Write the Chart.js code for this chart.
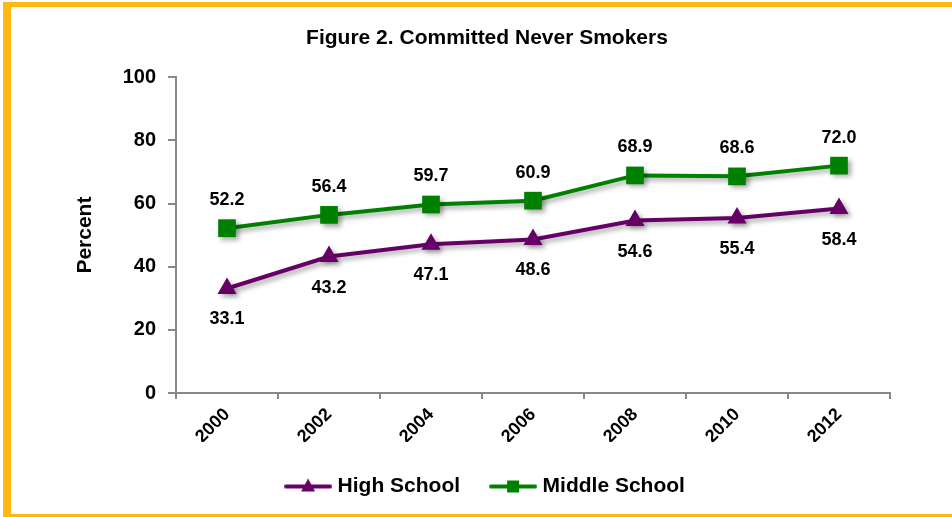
<!DOCTYPE html>
<html><head><meta charset="utf-8">
<script src="https://cdn.jsdelivr.net/npm/chart.js@4.4.1/dist/chart.umd.min.js"></script>
<style>
html,body{margin:0;padding:0;background:#fff;overflow:hidden;width:952px;height:517px;}
#wrap{position:relative;width:952px;height:517px;overflow:hidden;}
.band{position:absolute;background:#FDB813;pointer-events:none;}
#bl{left:3px;top:2px;width:8px;height:515px;}
#bt{left:3px;top:2px;width:949px;height:5px;}
#bb{left:3px;top:514px;width:949px;height:3px;}
canvas{position:absolute;left:0;top:0;}
</style></head><body>
<div id="wrap"><canvas id="c" width="952" height="517"></canvas><div class="band" id="bl"></div><div class="band" id="bt"></div><div class="band" id="bb"></div></div>
<script>
const years = ['2000','2002','2004','2006','2008','2010','2012'];
const highSchool = [33.1, 43.2, 47.1, 48.6, 54.6, 55.4, 58.4];
const middleSchool = [52.2, 56.4, 59.7, 60.9, 68.9, 68.6, 72.0];
const yTicks = [0, 20, 40, 60, 80, 100];

const PURPLE = '#660066';
const GREEN = '#008000';
const FONT = 'Arial, "Liberation Sans", sans-serif';

function legendIcon(color, style) {
  const c = document.createElement('canvas');
  c.width = 48; c.height = 22;
  const x = c.getContext('2d');
  x.strokeStyle = color; x.lineWidth = 4; x.lineCap = 'round';
  x.beginPath(); x.moveTo(2, 11); x.lineTo(46, 11); x.stroke();
  x.fillStyle = color;
  if (style === 'triangle') {
    x.beginPath(); x.moveTo(24, 3); x.lineTo(31, 16); x.lineTo(17, 16); x.closePath(); x.fill();
  } else {
    x.fillRect(18, 5, 12, 12);
  }
  return c;
}

const shadowPlugin = {
  id: 'shadow',
  beforeDatasetDraw(chart) {
    const c = chart.ctx; c.save();
    c.shadowColor = 'rgba(0,0,0,0.35)'; c.shadowBlur = 5; c.shadowOffsetX = 3; c.shadowOffsetY = 3;
  },
  afterDatasetDraw(chart) { chart.ctx.restore(); }
};

const labelPlugin = {
  id: 'valueLabels',
  afterDatasetsDraw(chart) {
    const ctx = chart.ctx;
    ctx.save();
    ctx.font = 'bold 18px ' + FONT;
    ctx.fillStyle = '#000';
    ctx.textAlign = 'center';
    ctx.textBaseline = 'middle';
    chart.data.datasets.forEach((ds, i) => {
      const meta = chart.getDatasetMeta(i);
      meta.data.forEach((pt, j) => {
        ctx.fillText(ds.data[j].toFixed(1), pt.x, pt.y + ds.labelShift);
      });
    });
    ctx.restore();
  }
};

new Chart(document.getElementById('c'), {
  type: 'line',
  data: {
    labels: years,
    datasets: [
      { label: 'High School', data: highSchool, borderColor: PURPLE, backgroundColor: PURPLE,
        borderWidth: 4, pointStyle: 'triangle', pointRadius: 11, pointBorderWidth: 0, tension: 0,
        labelShift: 31, clip: false, icon: legendIcon(PURPLE, 'triangle') },
      { label: 'Middle School', data: middleSchool, borderColor: GREEN, backgroundColor: GREEN,
        borderWidth: 4, pointStyle: 'rect', pointRadius: 12.5, pointBorderWidth: 0, tension: 0,
        labelShift: -28, clip: false, icon: legendIcon(GREEN, 'rect') }
    ]
  },
  options: {
    responsive: false,
    animation: false,
    devicePixelRatio: 1,
    layout: { padding: { left: 22, right: 0, top: 0, bottom: 10 } },
    plugins: {
      title: { display: true, text: 'Figure 2. Committed Never Smokers', color: '#000',
        font: { family: FONT, size: 21, weight: 'bold', lineHeight: 1.2 }, padding: { top: 26, bottom: 26 } },
      legend: { position: 'bottom',
        labels: { usePointStyle: true, pointStyleWidth: 38, padding: 34, color: '#000',
          font: { family: FONT, size: 21, weight: 'bold' },
          generateLabels(chart) {
            return chart.data.datasets.map((ds, i) => ({ text: ds.label, pointStyle: ds.icon, datasetIndex: i,
              hidden: false, lineWidth: 0, fillStyle: ds.borderColor, strokeStyle: ds.borderColor, fontColor: '#000' }));
          } } },
      tooltip: { enabled: false }
    },
    scales: {
      x: {
        offset: true,
        grid: { offset: true, drawOnChartArea: false, drawTicks: true, tickLength: 6, color: '#888', lineWidth: 2 },
        border: { display: true, color: '#888', width: 2 },
        ticks: { color: '#000', minRotation: 45, maxRotation: 45, padding: 5, font: { family: FONT, size: 18, weight: 'bold' } },
        afterFit(s) { s.height = 49; }
      },
      y: {
        min: 0, max: 100,
        afterBuildTicks(s) { s.ticks = yTicks.map(v => ({ value: v })); },
        grid: { drawOnChartArea: false, drawTicks: true, tickLength: 8, color: '#888', lineWidth: 2 },
        border: { display: true, color: '#888', width: 2 },
        ticks: { color: '#000', padding: 12, font: { family: FONT, size: 20, weight: 'bold' } },
        title: { display: true, text: 'Percent', color: '#000', padding: { top: 51, bottom: 0 },
          font: { family: FONT, size: 21, weight: 'bold', lineHeight: 1.2 } },
        afterFit(s) { s.width = 154; }
      },
      yRight: {
        position: 'right', display: true,
        grid: { display: false }, border: { display: false }, ticks: { display: false },
        afterFit(s) { s.width = 62; }
      }
    }
  },
  plugins: [shadowPlugin, labelPlugin]
});
</script>
</body></html>
